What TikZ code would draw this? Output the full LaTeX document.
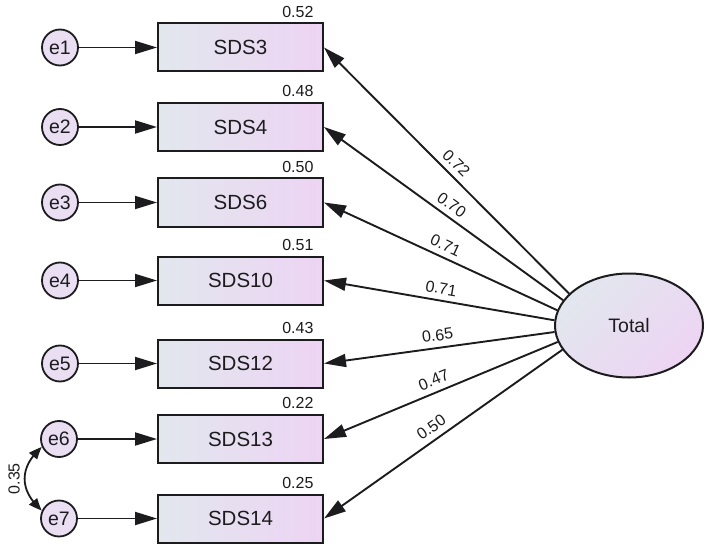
\documentclass[tikz,border=0pt]{standalone}
\usepackage{fontspec}
\setmainfont{Liberation Sans}
\usetikzlibrary{arrows.meta,shapes.geometric,bending}
\definecolor{gl}{RGB}{226,231,238}
\definecolor{gr}{RGB}{237,212,243}
\definecolor{errc}{RGB}{234,222,243}
\definecolor{ink}{RGB}{28,28,30}
\begin{document}
\begin{tikzpicture}[x=1pt,y=-1pt,
  obs/.style={draw=ink,line width=2pt,minimum width=165pt,minimum height=48pt,
    left color=gl,right color=gr,font=\fontsize{20.5}{22}\selectfont,text=ink,inner sep=0pt},
  err/.style={circle,draw=ink,line width=1.8pt,minimum size=36pt,inner sep=0pt,
    fill=errc,font=\fontsize{19.5}{21}\selectfont,text=ink},
  lat/.style={ellipse,draw=ink,line width=2pt,minimum width=148pt,minimum height=104pt,
    inner sep=0pt,left color=gl,right color=gr,shading angle=45,
    font=\fontsize{19.5}{21}\selectfont,text=ink},
  arr/.style={-{Triangle[length=22pt,width=13pt]},line width=1.9pt,draw=ink},
  cov/.style={{Triangle[length=13pt,width=10pt,bend]}-{Triangle[length=13pt,width=10pt,bend]},line width=1.8pt,draw=ink},
  coef/.style={font=\fontsize{16}{18}\selectfont,text=ink},
  varl/.style={coef,anchor=south east},
]
\useasboundingbox (0,0) rectangle (709,548);

% observed variables
\node[obs] (s3)  at (240.5,47.5)  {SDS3};
\node[obs] (s4)  at (240.5,127)   {SDS4};
\node[obs] (s6)  at (240.5,202.5) {SDS6};
\node[obs] (s10) at (240.5,280.5) {SDS10};
\node[obs] (s12) at (240.5,363.5) {SDS12};
\node[obs] (s13) at (240.5,439)   {SDS13};
\node[obs] (s14) at (240.5,518.5) {SDS14};

% error terms
\node[err] (e1) at (60,47.5)  {e1};
\node[err] (e2) at (60,127)   {e2};
\node[err] (e3) at (60,202.5) {e3};
\node[err] (e4) at (60,280.5) {e4};
\node[err] (e5) at (60,363.5) {e5};
\node[err] (e6) at (59,439)   {e6};
\node[err] (e7) at (59,518.5) {e7};

% latent
\node[lat] (T) at (629,325.5) {Total};

% squared multiple correlations
\node[varl] (v3)  at ([xshift=-7pt,yshift=1.5pt]s3.north east)  {0.52};
\node[varl] (v4)  at ([xshift=-7pt,yshift=1.5pt]s4.north east)  {0.48};
\node[varl] (v6)  at ([xshift=-7pt,yshift=1.5pt]s6.north east)  {0.50};
\node[varl] (v10) at ([xshift=-7pt,yshift=1.5pt]s10.north east) {0.51};
\node[varl] (v12) at ([xshift=-7pt,yshift=1.5pt]s12.north east) {0.43};
\node[varl] (v13) at ([xshift=-7pt,yshift=1.5pt]s13.north east) {0.22};
\node[varl] (v14) at ([xshift=-7pt,yshift=1.5pt]s14.north east) {0.25};

% error arrows
\draw[arr] (e1) -- (s3);
\draw[arr] (e2) -- (s4);
\draw[arr] (e3) -- (s6);
\draw[arr] (e4) -- (s10);
\draw[arr] (e5) -- (s12);
\draw[arr] (e6) -- (s13);
\draw[arr] (e7) -- (s14);

% loadings
\draw[arr] (T.152) -- node[coef,sloped,above=2pt,pos=0.495] {0.72} (s3.east);
\draw[arr] (T.159) -- node[coef,sloped,above=2pt,pos=0.495] {0.70} (s4.east);
\draw[arr] (T.168) -- node[coef,sloped,above=2pt,pos=0.5] {0.71} (s6.east);
\draw[arr] (T.176) -- node[coef,sloped,above=2pt,pos=0.5] {0.71} (s10.east);
\draw[arr] (T.185) -- node[coef,sloped,above=2.5pt,pos=0.5] {0.65} (s12.east);
\draw[arr] (T.193) -- node[coef,sloped,above=2.5pt,pos=0.51] {0.47} (s13.east);
\draw[arr] (T.200) -- node[coef,sloped,above=2.5pt,pos=0.52] {0.50} (s14.east);

% covariance
\draw[cov] (e7.155) .. controls +(-23,-20) and +(-23,20) .. 
  node[coef,rotate=90,anchor=south,pos=0.5,inner sep=4pt] {0.35} (e6.205);
\end{tikzpicture}
\end{document}
